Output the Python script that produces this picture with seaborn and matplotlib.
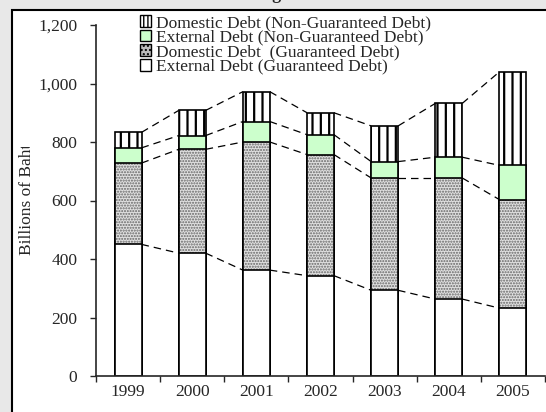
import numpy as np
import matplotlib
matplotlib.use("Agg")
import matplotlib.pyplot as plt
from matplotlib.patches import Patch, Rectangle
from matplotlib.transforms import Bbox
import seaborn as sns

# data (billions of baht)
years = ["1999", "2000", "2001", "2002", "2003", "2004", "2005"]
external_guaranteed = [450, 420, 362, 343, 293, 263, 232]
domestic_guaranteed = [278, 355, 438, 414, 384, 414, 371]
external_non_guaranteed = [52, 47, 70, 68, 56, 71, 117]
domestic_non_guaranteed = [53, 86, 102, 75, 122, 184, 320]

labels = ["Domestic Debt (Non-Guaranteed Debt)",
          "External Debt (Non-Guaranteed Debt)",
          "Domestic Debt  (Guaranteed Debt)",
          "External Debt (Guaranteed Debt)"]
yticks = [0, 200, 400, 600, 800, 1000, 1200]

sns.set_style("ticks")
plt.rcParams["font.family"] = ["Liberation Serif", "DejaVu Serif"]
plt.rcParams["hatch.linewidth"] = 1.6

W, H = 546, 412
fig = plt.figure(figsize=(W / 100, H / 100), dpi=100)
fig.patch.set_facecolor("#e8e8e8")
# white panel with black left/top border
fig.patches.append(Rectangle((12 / W, -0.1), 1.2, (H - 10) / H + 0.1,
                             transform=fig.transFigure, facecolor="white",
                             edgecolor="black", linewidth=1.5, zorder=0))
fig.text(281 / W, 1 + 1 / H, "Outstanding", ha="right", va="baseline",
         fontsize=13, fontweight="bold")

ax = fig.add_axes([96 / W, 36 / H, 449 / W, 351 / H])
ax.set_zorder(2)
ax.set_facecolor("none")

lvl1 = np.array(external_guaranteed)
lvl2 = lvl1 + np.array(domestic_guaranteed)
lvl3 = lvl2 + np.array(external_non_guaranteed)
lvl4 = lvl3 + np.array(domestic_non_guaranteed)

bw = 0.42
sns.barplot(x=years, y=lvl4, color="white", saturation=1, width=bw,
            hatch="||", edgecolor="black", linewidth=1.2, ax=ax)
sns.barplot(x=years, y=lvl3, color="#ccffcc", saturation=1, width=bw,
            edgecolor="black", linewidth=1.2, ax=ax)
plt.rcParams["hatch.linewidth"] = 1.0
sns.barplot(x=years, y=lvl2, color="#e0e0e0", saturation=1, width=bw,
            hatch="......", edgecolor="#666666", linewidth=0, ax=ax)
sns.barplot(x=years, y=lvl2, facecolor="none", width=bw,
            edgecolor="black", linewidth=1.2, ax=ax)
sns.barplot(x=years, y=lvl1, color="white", saturation=1, width=bw,
            edgecolor="black", linewidth=1.2, ax=ax)

# dashed connectors between bars
xs = np.arange(len(years))
for lvl in (lvl1, lvl2, lvl3, lvl4):
    for i in range(len(years) - 1):
        ax.plot([xs[i] + bw / 2, xs[i + 1] - bw / 2], [lvl[i], lvl[i + 1]],
                color="black", lw=0.9, dashes=(6, 4))

ax.set_xlim(-0.5, len(years) - 0.5)
ax.set_ylim(0, 1200)
ax.set_yticks(yticks)
ax.set_yticklabels([f"{v:,}" for v in yticks])
ax.tick_params(axis="y", length=4.5, width=1, pad=9, labelsize=12.5, direction="out")
ax.tick_params(axis="x", which="major", length=0, pad=6, labelsize=12.5)
ax.set_xticks(np.arange(-0.5, len(years)), minor=True)
ax.tick_params(axis="x", which="minor", length=4.5, width=1, direction="out")
sns.despine(ax=ax)
for s in ("left", "bottom"):
    ax.spines[s].set_linewidth(1.2)
ax.set_xlabel("")

ylab = fig.text(27 / W, 1 - 255 / H, "Billions of Baht", rotation=90,
                ha="center", va="bottom", fontsize=12.5)
ylab.set_clip_box(Bbox.from_extents(0, 0, W, H - 147))
ylab.set_clip_on(True)

handles = [
    Patch(facecolor="white", edgecolor="black", hatch="||||"),
    Patch(facecolor="#ccffcc", edgecolor="black"),
    Patch(facecolor="#bdbdbd", edgecolor="black", hatch="...."),
    Patch(facecolor="white", edgecolor="black"),
]
fig.legend(handles, labels, loc="upper left", bbox_to_anchor=(140 / W, 1 - 15 / H),
           frameon=False, fontsize=12.5, handlelength=0.65, handleheight=0.65,
           handletextpad=0.3, labelspacing=-0.08, borderpad=0, borderaxespad=0)

fig.savefig("out.png", dpi=100, facecolor=fig.get_facecolor())
